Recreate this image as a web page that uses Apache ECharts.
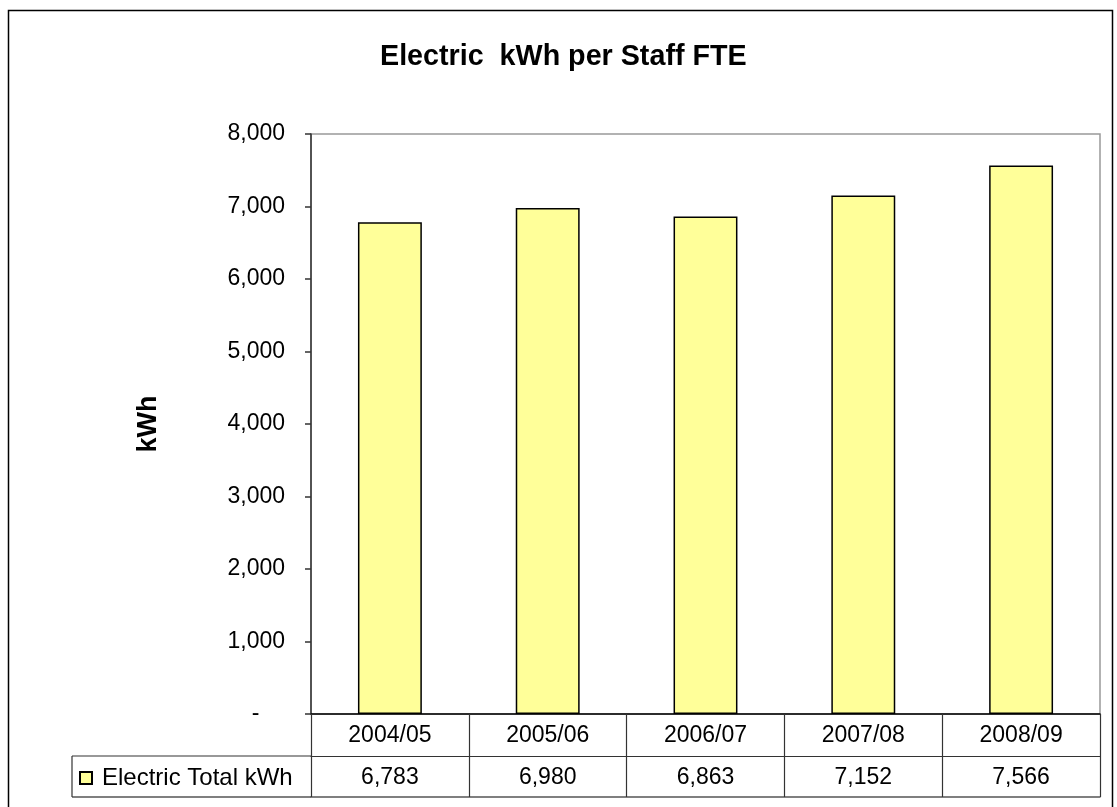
<!DOCTYPE html>
<html>
<head>
<meta charset="utf-8">
<script src="https://cdn.jsdelivr.net/npm/echarts@6/dist/echarts.min.js"></script>
<style>
  html, body { margin: 0; padding: 0; background: #fff; }
  #chart { width: 1117px; height: 807px; }
</style>
</head>
<body>
<div id="chart"></div>
<script>
// chart data
const categories = ['2004/05', '2005/06', '2006/07', '2007/08', '2008/09'];
const electricTotal = [6783, 6980, 6863, 7152, 7566];
const seriesName = 'Electric Total kWh';

const FONT = '"Liberation Sans", Arial, sans-serif';
const fmt = v => v.toLocaleString('en-US');

let myChart = echarts.init(document.getElementById('chart'));

let option = {
  animation: false,
  backgroundColor: '#fff',
  textStyle: { fontFamily: FONT, color: '#000' },
  title: {
    text: 'Electric  kWh per Staff FTE',
    left: 375,
    top: 38,
    textStyle: { fontFamily: FONT, fontSize: 28.7, fontWeight: 'bold', color: '#000' },
  },
  legend: {
    left: 79,
    top: 766,
    padding: 0,
    itemWidth: 12,
    itemHeight: 12,
    icon: 'rect',
    textStyle: { fontFamily: FONT, fontSize: 24, color: '#000', lineHeight: 24, padding: [0, 0, 0, 5] },
    data: [seriesName],
  },
  grid: {
    left: 311,
    right: 17,
    top: 134,
    bottom: 93,
    show: true,
    borderColor: '#999',
    borderWidth: 1.5,
  },
  xAxis: [
    {
      type: 'category',
      data: categories,
      axisLine: { lineStyle: { color: '#000', width: 1.5 } },
      axisTick: { show: true, length: 83, interval: 0, lineStyle: { color: '#333', width: 1.2 } },
      axisLabel: { fontFamily: FONT, fontSize: 23, color: '#000', margin: 10, interval: 0 },
    },
    {
      type: 'category',
      position: 'bottom',
      offset: 42,
      data: electricTotal.map(fmt),
      axisLine: { lineStyle: { color: '#333', width: 1.2 } },
      axisTick: { show: false },
      axisLabel: { fontFamily: FONT, fontSize: 23, color: '#000', margin: 10, interval: 0 },
    },
    {
      type: 'category',
      position: 'bottom',
      offset: 83,
      data: categories,
      axisLine: { lineStyle: { color: '#555', width: 1.5 } },
      axisTick: { show: false },
      axisLabel: { show: false },
    },
  ],
  yAxis: {
    type: 'value',
    min: 0,
    max: 8000,
    interval: 1000,
    name: 'kWh',
    nameLocation: 'middle',
    nameGap: 149,
    nameRotate: 90,
    nameTextStyle: { fontFamily: FONT, fontSize: 27, fontWeight: 'bold', color: '#000' },
    axisLine: { show: true, lineStyle: { color: '#333', width: 1.5 } },
    axisTick: { show: true, length: 6, lineStyle: { color: '#333', width: 1.5 } },
    axisLabel: {
      fontFamily: FONT,
      fontSize: 23,
      color: '#000',
      margin: 26,
      formatter: v => (v === 0 ? '-    ' : fmt(v)),
    },
    splitLine: { show: false },
  },
  series: [
    {
      name: seriesName,
      type: 'bar',
      xAxisIndex: 0,
      data: electricTotal,
      barWidth: '40.5%',
      itemStyle: { color: '#FFFF99', borderColor: '#000', borderWidth: 1.5 },
    },
  ],
  graphic: [
    // outer chart border
    { type: 'rect', shape: { x: 8.5, y: 10.5, width: 1104, height: 820 }, style: { fill: 'none', stroke: '#000', lineWidth: 1.5 }, silent: true },
    // data table legend cell frame
    { type: 'line', shape: { x1: 72, y1: 756, x2: 311, y2: 756 }, style: { stroke: '#333', lineWidth: 1.2 }, silent: true },
    { type: 'line', shape: { x1: 72, y1: 797, x2: 311, y2: 797 }, style: { stroke: '#555', lineWidth: 1.5 }, silent: true },
    { type: 'line', shape: { x1: 72, y1: 756, x2: 72, y2: 797 }, style: { stroke: '#333', lineWidth: 1.2 }, silent: true },
  ],
};

myChart.setOption(option);
</script>
</body>
</html>
